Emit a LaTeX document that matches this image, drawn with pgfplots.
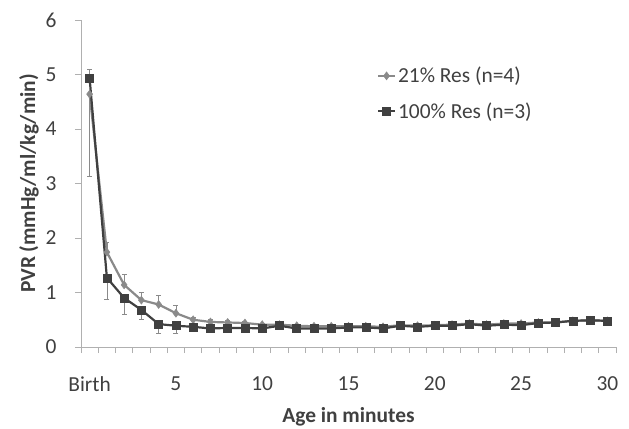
\documentclass[border=0pt]{standalone}
\usepackage{fontspec}
\setmainfont{Carlito}
\usepackage{pgfplots}
\usepackage{pgfplotstable}
\pgfplotsset{compat=1.18}
\definecolor{lgray}{HTML}{8A8A8A}
\definecolor{dgray}{HTML}{404040}
\definecolor{axgray}{HTML}{B0B0B0}
\pgfplotstableread{
x y ep em
0 4.64 0 1.50
1 1.74 0.19 0
2 1.14 0.20 0
3 0.86 0.14 0
4 0.78 0.17 0
5 0.62 0.14 0
6 0.50 0.05 0
7 0.46 0.04 0
8 0.45 0.04 0
9 0.44 0.03 0
10 0.41 0.03 0
11 0.41 0.03 0
12 0.39 0.03 0
13 0.38 0.03 0
14 0.38 0.03 0
15 0.38 0.03 0
16 0.38 0.03 0
17 0.37 0.03 0
18 0.40 0.03 0
19 0.39 0.03 0
20 0.40 0.03 0
21 0.41 0.03 0
22 0.43 0.04 0
23 0.41 0.03 0
24 0.43 0.04 0
25 0.43 0.05 0
26 0.45 0.04 0
27 0.45 0.03 0
28 0.48 0.03 0
29 0.49 0.03 0
30 0.48 0.03 0
}\tblA
\pgfplotstableread{
x y ep em
0 4.93 0.16 0
1 1.27 0 0.39
2 0.90 0 0.30
3 0.68 0 0.17
4 0.42 0 0.16
5 0.39 0 0.13
6 0.37 0 0.05
7 0.34 0 0.04
8 0.35 0 0.03
9 0.35 0 0.03
10 0.34 0 0.03
11 0.39 0 0.03
12 0.34 0 0.03
13 0.34 0 0.03
14 0.34 0 0.03
15 0.36 0 0.03
16 0.36 0 0.03
17 0.34 0 0.03
18 0.39 0 0.03
19 0.37 0 0.03
20 0.39 0 0.03
21 0.39 0 0.03
22 0.42 0 0.03
23 0.39 0 0.03
24 0.41 0 0.03
25 0.40 0 0.03
26 0.44 0 0.03
27 0.45 0 0.03
28 0.48 0 0.03
29 0.49 0 0.03
30 0.48 0 0.03
}\tblB
\begin{document}
\begin{tikzpicture}
\useasboundingbox (-81bp,-82bp) rectangle (548bp,347bp);
\begin{axis}[
  scale only axis,
  width=535bp, height=327bp,
  xmin=-0.5, xmax=30.5,
  ymin=0, ymax=6,
  ytick={0,1,2,3,4,5,6},
  xtick={0,5,10,15,20,25,30},
  xticklabels={Birth,5,10,15,20,25,30},
  minor xtick={-0.5,0.5,...,30.5},
  axis lines=left,
  axis line style={axgray, line width=0.8pt, -},
  every tick/.style={axgray, line width=0.8pt},
  major x tick style={draw=none},
  tick align=outside,
  major tick length=6bp,
  minor tick length=6bp,
  tick label style={font=\fontsize{21.5}{24}\selectfont, text=dgray},
  /pgf/number format/assume math mode=true,
  xticklabel style={anchor=center, yshift=-31bp},
  yticklabel style={anchor=east, xshift=-15bp},
  ylabel={\textbf{PVR (mmHg/ml/kg/min)}},
  xlabel={\textbf{Age in minutes}},
  label style={font=\fontsize{21.5}{24}\selectfont, text=dgray},
  ylabel style={at={(axis description cs:0,0.5)}, anchor=center, yshift=52bp},
  xlabel style={at={(axis description cs:0.5,0)}, anchor=center, yshift=-70bp},
  legend style={draw=none, fill=none, at={(0.553,0.862)}, anchor=north west,
    font=\fontsize{21.5}{24}\selectfont, text=dgray, row sep=14bp,
    legend cell align=left, inner sep=0pt},
  legend image post style={line width=2pt},
  clip=false,
]
\addplot[lgray, line width=2.2pt, mark=diamond*, mark size=4bp,
  mark options={solid, fill=lgray, line width=0.5pt},
  error bars/.cd, y dir=both, y explicit,
  error bar style={lgray, line width=0.6pt}, error mark options={rotate=90, mark size=2.5bp, lgray, line width=0.6pt}]
  table[x=x, y=y, y error plus=ep, y error minus=em] {\tblA};
\addlegendentry{21\% Res (n=4)}
\addplot[dgray, line width=2.2pt, mark=square*, mark size=4bp,
  mark options={solid, fill=dgray, line width=0.5pt},
  error bars/.cd, y dir=both, y explicit,
  error bar style={lgray, line width=0.6pt}, error mark options={rotate=90, mark size=2.5bp, lgray, line width=0.6pt}]
  table[x=x, y=y, y error plus=ep, y error minus=em] {\tblB};
\addlegendentry{100\% Res (n=3)}
\end{axis}
\end{tikzpicture}
\end{document}
